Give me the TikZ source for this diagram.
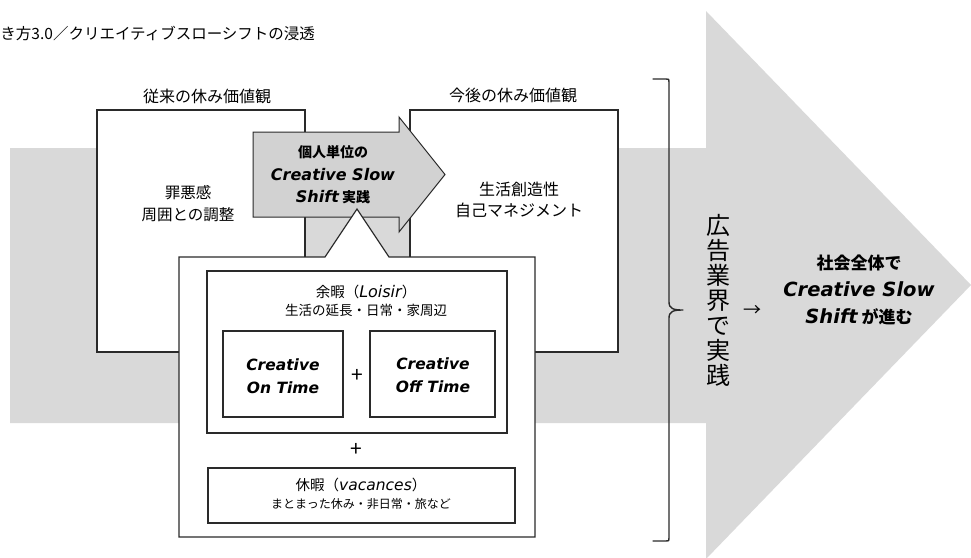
\documentclass[tikz,border=0pt]{standalone}
\usepackage{fontspec}
\setmainfont{Noto Sans CJK JP}
\newfontfamily\vd{DejaVu Sans}
\usetikzlibrary{arrows.meta}
\definecolor{biggray}{HTML}{D9D9D9}
\definecolor{smallgray}{HTML}{D2D2D2}
\definecolor{edge}{HTML}{2A2A2A}
\newcommand\li[2]{{\vd\itshape\fontsize{#1}{#1}\selectfont #2}}
\newcommand\bi[2]{{\vd\bfseries\itshape\fontsize{#1}{#1}\selectfont #2}}
\newcommand\fs[1]{\fontsize{#1}{#1}\selectfont}
\begin{document}
\begin{tikzpicture}[x=1pt,y=-1pt,
  box/.style={draw=edge, line width=1.2pt, fill=white},
  txt/.style={inner sep=0pt, outer sep=0pt, align=center, text=black},
  pitch/.style 2 args={font=\fontsize{#1}{#2}\selectfont}]
\useasboundingbox (0,0) rectangle (971,557);
\fill[white] (0,0) rectangle (971,557);

% big background arrow
\fill[biggray] (10,148) -- (706,148) -- (706,11) -- (971,285) -- (706,559) -- (706,423) -- (10,423) -- cycle;

% title
\node[txt, anchor=west, pitch={15.5}{18}] (title) at (0.5,34) {き方3.0／クリエイティブスローシフトの浸透};

% old / new value boxes
\draw[box] (97,110) rectangle (305,352);
\node[minimum width=208pt, minimum height=242pt, inner sep=0pt] (oldbox) at (201,231) {};
\draw[box] (410,110) rectangle (618,352);
\node[minimum width=208pt, minimum height=242pt, inner sep=0pt] (newbox) at (514,231) {};
\node[txt, pitch={16}{18}] (oldlabel) at (207,96) {従来の休み価値観};
\node[txt, pitch={16}{18}] (newlabel) at (513,95) {今後の休み価値観};
\node[txt, pitch={15.5}{22}] (oldtext) at (188,204) {罪悪感\\周囲との調整};
\node[txt, pitch={16}{21}] (newtext) at (519,200) {生活創造性\\自己マネジメント};

% small arrow
\draw[fill=smallgray, draw=edge, line width=1pt, line join=miter]
  (253,132) -- (399,132) -- (399,117) -- (445,174.5) -- (399,232) -- (399,217) -- (253,217) -- cycle;
\node[txt, pitch={14}{22.5}] (practice) at (333,175)
  {\bfseries 個人単位の\\\bi{16}{Creative Slow}\\\bi{16}{Shift} {\bfseries 実践}};

% callout box
\draw[box, line join=miter] (179,257) -- (325,257) -- (357,209) -- (389,257) -- (535,257) -- (535,537) -- (179,537) -- cycle;
\node[minimum width=356pt, minimum height=280pt, inner sep=0pt] (callout) at (357,397) {};

% loisir box
\draw[box] (207,271) rectangle (507,433);
\node[txt, pitch={14.5}{18}] (loisir) at (366,301)
  {余暇（\li{16}{Loisir}）\\{\fs{13.5}生活の延長・日常・家周辺}};
\draw[box] (223,331) rectangle (343,417);
\node[txt, pitch={15.5}{23}] (ontime) at (283,376.5) {\bi{15.5}{Creative}\\\bi{15.5}{On Time}};
\node[txt, pitch={21}{21}] (plus1) at (357,376) {+};
\draw[box] (370,331) rectangle (495,417);
\node[txt, pitch={15.5}{23}] (offtime) at (433,375) {\bi{15.5}{Creative}\\\bi{15.5}{Off Time}};
\node[txt, pitch={21}{21}] (plus2) at (356,450) {+};

% vacances box
\draw[box] (208,468) rectangle (515,523);
\node[txt, pitch={14.5}{18}] (vacances) at (361,494)
  {休暇（\li{15.5}{vacances}）\\{\fs{12}まとまった休み・非日常・旅など}};

% brace
\draw[edge, line width=1.4pt, line cap=round, line join=round]
  (653,79) -- (666,79) .. controls (669,79) .. (669,82) -- (669,302)
  .. controls (669,309) and (674,310) .. (683,310)
  .. controls (674,310) and (669,311) .. (669,318) -- (669,538)
  .. controls (669,541) .. (666,541) -- (653,541);
\coordinate (bracetip) at (683,310);

% vertical text
\node[txt, pitch={24}{25}] (industry) at (718,300) {広\\告\\業\\界\\で\\実\\践};
\node[txt, pitch={18}{18}] (to) at (752,311) {→};

% result text
\node[txt, pitch={17}{27}] (result) at (859,290)
  {\bfseries 社会全体で\\\bi{19.5}{Creative Slow}\\\bi{19.5}{Shift} {\bfseries が進む}};
\end{tikzpicture}
\end{document}
